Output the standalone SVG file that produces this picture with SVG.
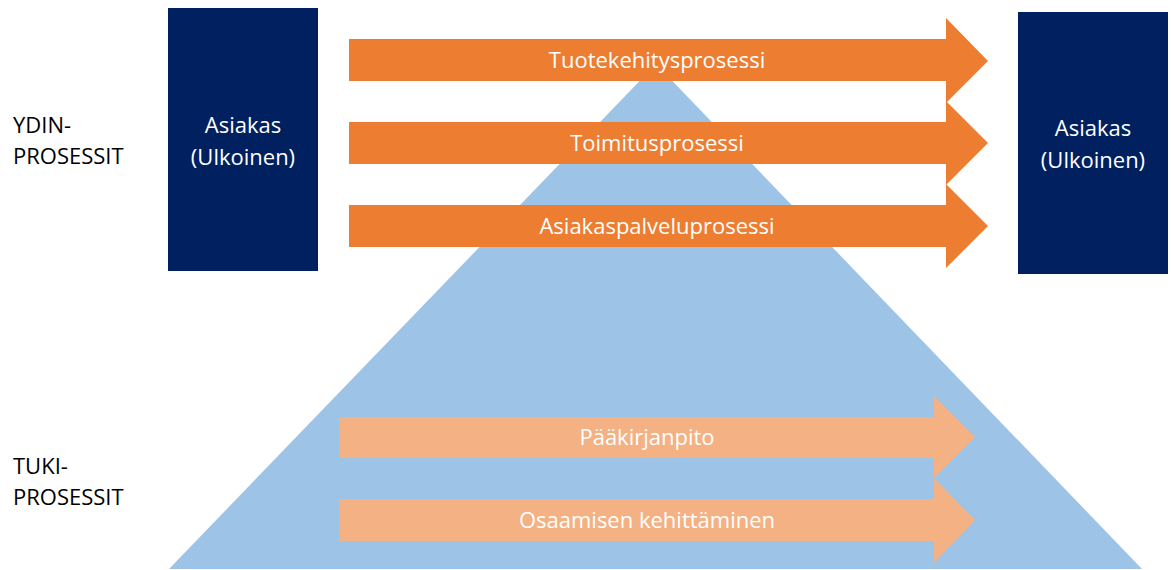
<svg xmlns="http://www.w3.org/2000/svg" width="1171" height="570" viewBox="0 0 1171 570">
  <style>
    .customer { fill: #002060; }
    .core { fill: #ED7D31; }
    .support { fill: #F4B183; }
    .pyramid { fill: #9DC3E6; }
    .lbl { font-family: "Open Sans", "Liberation Sans", sans-serif; font-size: 22px; fill: #FFFFFF; text-anchor: middle; }
    .side { font-family: "Open Sans", "Liberation Sans", sans-serif; font-size: 22px; fill: #000000; }
  </style>
  <rect width="1171" height="570" fill="#FFFFFF"/>

  <!-- background pyramid -->
  <g id="pyramid">
    <polygon class="pyramid" points="656,64 1142,569 169,569"/>
  </g>

  <!-- side headings -->
  <g id="heading-core">
    <text class="side" x="13" y="133">YDIN-</text>
    <text class="side" x="13" y="164">PROSESSIT</text>
  </g>
  <g id="heading-support">
    <text class="side" x="13" y="474">TUKI-</text>
    <text class="side" x="13" y="505">PROSESSIT</text>
  </g>

  <!-- customers -->
  <g id="customer-left">
    <rect class="customer" x="168" y="8" width="150" height="263"/>
    <text class="lbl" x="243" y="133">Asiakas</text>
    <text class="lbl" x="243" y="165">(Ulkoinen)</text>
  </g>
  <g id="customer-right">
    <rect class="customer" x="1018" y="12" width="150" height="262"/>
    <text class="lbl" x="1093" y="136">Asiakas</text>
    <text class="lbl" x="1093" y="168">(Ulkoinen)</text>
  </g>

  <!-- core process arrows -->
  <g id="process-product">
    <polygon class="core" points="349,39 946,39 946,18 988,61 946,103 946,81 349,81"/>
    <text class="lbl" x="657" y="68">Tuotekehitysprosessi</text>
  </g>
  <g id="process-delivery">
    <polygon class="core" points="349,122 946,122 946,101 988,143 946,185 946,164 349,164"/>
    <text class="lbl" x="657" y="151">Toimitusprosessi</text>
  </g>
  <g id="process-service">
    <polygon class="core" points="349,205 946,205 946,184 988,226 946,268 946,247 349,247"/>
    <text class="lbl" x="657" y="234">Asiakaspalveluprosessi</text>
  </g>

  <!-- support process arrows -->
  <g id="process-ledger">
    <polygon class="support" points="339,417 934,417 934,396 975,437 934,478 934,458 339,458"/>
    <text class="lbl" x="647" y="445">Pääkirjanpito</text>
  </g>
  <g id="process-competence">
    <polygon class="support" points="339,499 934,499 934,478 975,520 934,563 934,541 339,541"/>
    <text class="lbl" x="647" y="528">Osaamisen kehittäminen</text>
  </g>
</svg>
